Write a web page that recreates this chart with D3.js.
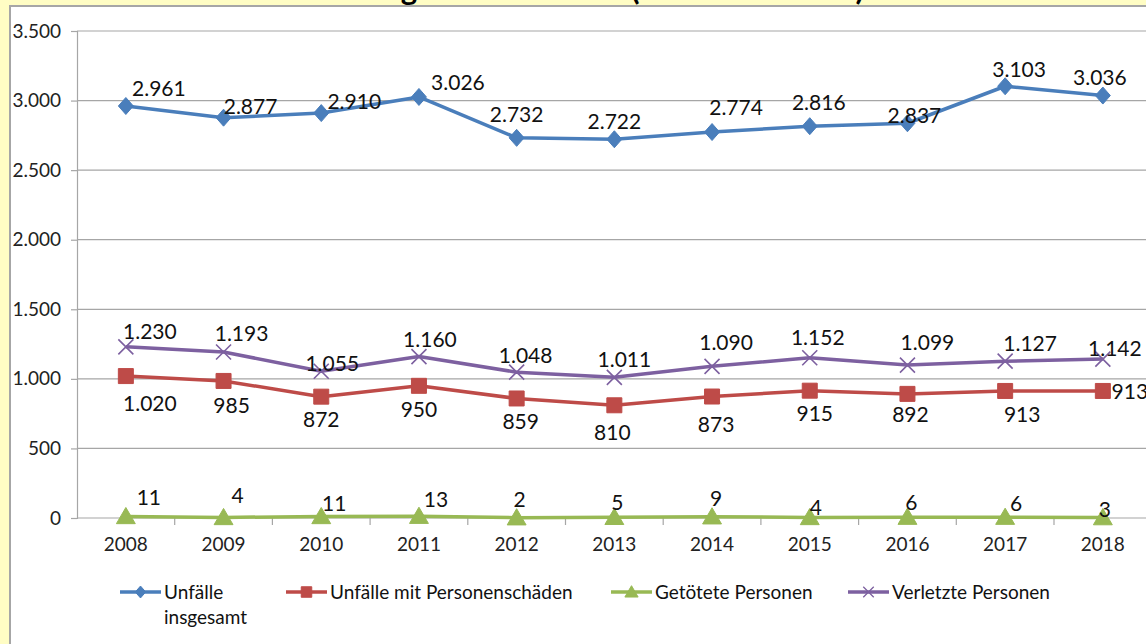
<!DOCTYPE html>
<html lang="de">
<head>
  <meta charset="UTF-8">
  <title>Unfallentwicklung</title>
  <script src="https://d3js.org/d3.v7.min.js"></script>
  <style>
    html, body { margin: 0; padding: 0; background: #fffdc4; }
    svg { display: block; }
  </style>
</head>
<body>

  <script>
    ((window, document) => {
      "use strict";

      /**
       * -----------------------------------------------------------------------
       *  Data
       * -----------------------------------------------------------------------
       */
      const TITLE = "Unfallentwicklung 2008 bis 2018 (Verkehrsunfälle)";
      const YEARS = ["2008", "2009", "2010", "2011", "2012", "2013",
                     "2014", "2015", "2016", "2017", "2018"];
      const UNFAELLE_GESAMT = [2961, 2877, 2910, 3026, 2732, 2722, 2774, 2816, 2837, 3103, 3036];
      const UNFAELLE_PERSONEN = [1020, 985, 872, 950, 859, 810, 873, 915, 892, 913, 913];
      const GETOETETE = [11, 4, 11, 13, 2, 5, 9, 4, 6, 6, 3];
      const VERLETZTE = [1230, 1193, 1055, 1160, 1048, 1011, 1090, 1152, 1099, 1127, 1142];
      const Y_TICKS = [0, 500, 1000, 1500, 2000, 2500, 3000, 3500];
      const SERIES_NAMES = ["Unfälle insgesamt", "Unfälle mit Personenschäden",
                            "Getötete Personen", "Verletzte Personen"];

      // label offsets (dx, dy) as placed by hand in the original sheet
      const OFFSETS_GESAMT = [[33, -18], [27, -12], [33, -13], [39, -15], [0, -24], [0, -19],
                              [24, -26], [9, -25], [7, -9], [14, -18], [-3, -19]];
      const OFFSETS_PERSONEN = [[24, 26], [8, 24], [0, 22], [0, 23], [4, 22], [-2, 26],
                                [4, 27], [5, 22], [3, 20], [17, 23], [27, 0]];
      const OFFSETS_GETOETETE = [[23, -20], [14, -23], [13, -14], [17, -18], [3, -19], [3, -16],
                                 [4, -19], [6, -11], [4, -16], [11, -15], [2, -9]];
      const OFFSETS_VERLETZTE = [[24, -16], [18, -20], [11, -9], [11, -18], [9, -18], [10, -19],
                                 [14, -25], [8, -21], [20, -24], [25, -19], [12, -12]];


      /**
       * -----------------------------------------------------------------------
       *  Render
       * -----------------------------------------------------------------------
       */
      const WIDTH = 1146;
      const HEIGHT = 644;
      const FONT = "Lato, 'Liberation Sans', sans-serif";
      const GRID = "#a6a6a6";

      const locale = d3.formatLocale({
        decimal: ",", thousands: ".", grouping: [3], currency: ["", " €"],
      });
      const fmt = locale.format(",d");

      const svg = d3.select("body").append("svg")
          .attr("width", WIDTH)
          .attr("height", HEIGHT)
          .attr("font-family", FONT);

      // background strip + clipped title
      svg.append("rect")
          .attr("width", WIDTH).attr("height", HEIGHT)
          .attr("fill", "#fffdc4");
      drawTitle();
      svg.append("rect")
          .attr("x", 10).attr("y", 6)
          .attr("width", WIDTH).attr("height", HEIGHT)
          .attr("fill", "#fff")
          .attr("stroke", GRID)
          .attr("stroke-width", 2);

      const plot = { left: 77, top: 31, bottom: 518, step: 97.7 };

      const x = d3.scaleBand()
          .domain(YEARS)
          .range([plot.left, plot.left + plot.step * YEARS.length]);
      const cx = d => x(d) + x.bandwidth() / 2;
      const y = d3.scaleLinear()
          .domain([0, 3500])
          .range([plot.bottom, plot.top]);

      // grid
      svg.append("g").selectAll("line")
        .data(Y_TICKS.slice(1))
        .join("line")
          .attr("x1", plot.left).attr("x2", WIDTH)
          .attr("y1", d => y(d)).attr("y2", d => y(d))
          .attr("stroke", GRID).attr("stroke-width", 1.2);

      // y axis
      const yAxis = svg.append("g")
          .attr("transform", `translate(${plot.left},0)`)
          .call(d3.axisLeft(y).tickValues(Y_TICKS).tickFormat(fmt).tickSize(6).tickPadding(10));
      yAxis.select(".domain").attr("stroke", GRID).attr("stroke-width", 1.2);
      yAxis.selectAll(".tick line").attr("stroke", GRID).attr("stroke-width", 1.2);
      yAxis.selectAll("text")
          .attr("font-size", 19).attr("font-family", FONT).attr("fill", "#222");

      // x axis: labels centred, ticks between categories
      const xAxis = svg.append("g")
          .attr("transform", `translate(0,${plot.bottom})`)
          .call(d3.axisBottom(x).tickSize(0).tickPadding(20));
      xAxis.select(".domain").remove();
      xAxis.selectAll("text")
          .attr("font-size", 19).attr("font-family", FONT).attr("fill", "#222");
      xAxis.append("line")
          .attr("x1", plot.left).attr("x2", WIDTH)
          .attr("stroke", GRID).attr("stroke-width", 1.2);
      xAxis.selectAll(".sep")
        .data(YEARS)
        .join("line")
          .attr("class", "sep")
          .attr("x1", d => x(d) + x.bandwidth()).attr("x2", d => x(d) + x.bandwidth())
          .attr("y1", 0).attr("y2", 7)
          .attr("stroke", GRID).attr("stroke-width", 1.2);

      const MARKERS = {
        diamond: s => `M0,${-s}L${s * 0.88},0L0,${s}L${-s * 0.88},0Z`,
        square: s => `M${-s},${-s}H${s}V${s}H${-s}Z`,
        triangle: s => `M0,${-s}L${s * 1.05},${s * 0.8}L${-s * 1.05},${s * 0.8}Z`,
        cross: s => `M${-s},${-s}L${s},${s}M${-s},${s}L${s},${-s}`,
      };

      const series = [
        { name: SERIES_NAMES[0], values: UNFAELLE_GESAMT, offsets: OFFSETS_GESAMT,
          color: "#4a7ebb", marker: "diamond", size: 8.5 },
        { name: SERIES_NAMES[1], values: UNFAELLE_PERSONEN, offsets: OFFSETS_PERSONEN,
          color: "#be4b48", marker: "square", size: 7.5 },
        { name: SERIES_NAMES[2], values: GETOETETE, offsets: OFFSETS_GETOETETE,
          color: "#98b954", marker: "triangle", size: 9 },
        { name: SERIES_NAMES[3], values: VERLETZTE, offsets: OFFSETS_VERLETZTE,
          color: "#7d60a0", marker: "cross", size: 7.5 },
      ];

      const line = d3.line()
          .x((d, i) => cx(YEARS[i]))
          .y(d => y(d));

      series.forEach(s => drawSeries(s));
      series.forEach(s => drawLabels(s));

      drawLegend();


      /**
       * -----------------------------------------------------------------------
       *  Function
       * -----------------------------------------------------------------------
       */
      function drawSeries (s) {
        const g = svg.append("g");
        g.append("path")
            .datum(s.values)
            .attr("d", line)
            .attr("fill", "none")
            .attr("stroke", s.color)
            .attr("stroke-width", 3.5)
            .attr("stroke-linejoin", "round");
        g.selectAll(".m")
          .data(s.values)
          .join("path")
            .attr("class", "m")
            .attr("transform", (d, i) => `translate(${cx(YEARS[i])},${y(d)})`)
            .attr("d", MARKERS[s.marker](s.size))
            .attr("fill", s.marker === "cross" ? "none" : s.color)
            .attr("stroke", s.color)
            .attr("stroke-width", s.marker === "cross" ? 1.6 : 1);
      }

      function drawLabels (s) {
        svg.append("g").selectAll("text")
          .data(s.values)
          .join("text")
            .attr("x", (d, i) => cx(YEARS[i]) + s.offsets[i][0])
            .attr("y", (d, i) => y(d) + s.offsets[i][1])
            .attr("text-anchor", "middle")
            .attr("dominant-baseline", "central")
            .attr("font-size", 21)
            .attr("fill", "#111")
            .text(d => fmt(d));
      }

      function drawLegend () {
        const items = [
          { s: series[0], x: 120, lines: ["Unfälle", "insgesamt"] },
          { s: series[1], x: 286, lines: [SERIES_NAMES[1]] },
          { s: series[2], x: 611, lines: [SERIES_NAMES[2]] },
          { s: series[3], x: 848, lines: [SERIES_NAMES[3]] },
        ];
        const ly = 592;
        items.forEach(({ s, x: lx, lines }) => {
          const g = svg.append("g").attr("transform", `translate(${lx},${ly})`);
          g.append("line")
              .attr("x1", 0).attr("x2", 41)
              .attr("stroke", s.color).attr("stroke-width", 3.5);
          g.append("path")
              .attr("transform", "translate(20.5,0)")
              .attr("d", MARKERS[s.marker](s.size * 0.7))
              .attr("fill", s.marker === "cross" ? "none" : s.color)
              .attr("stroke", s.color)
              .attr("stroke-width", s.marker === "cross" ? 1.3 : 1);
          g.append("text")
              .attr("x", 44)
              .attr("font-size", 19)
              .attr("fill", "#111")
            .selectAll("tspan")
            .data(lines)
            .join("tspan")
              .attr("x", 44)
              .attr("y", (d, i) => 7 + i * 25)
              .text(d => d);
        });
      }

      function drawTitle () {
        const t = svg.append("text")
            .attr("font-weight", "bold")
            .attr("font-size", 22)
            .attr("fill", "#000")
            .attr("y", 0)
            .text(TITLE);
        const node = t.node();
        const centre = idx => node.getSubStringLength(0, idx) + node.getSubStringLength(idx, 1) / 2;
        const gi = TITLE.indexOf("g ");
        const ci = TITLE.indexOf(")");
        const k = (860 - 409) / (centre(ci) - centre(gi));
        t.attr("font-size", 22 * k);
        t.attr("x", 409 - centre(gi));
        t.attr("y", -0.5);
      }

    })(window, document);
  </script>

</body>
</html>
